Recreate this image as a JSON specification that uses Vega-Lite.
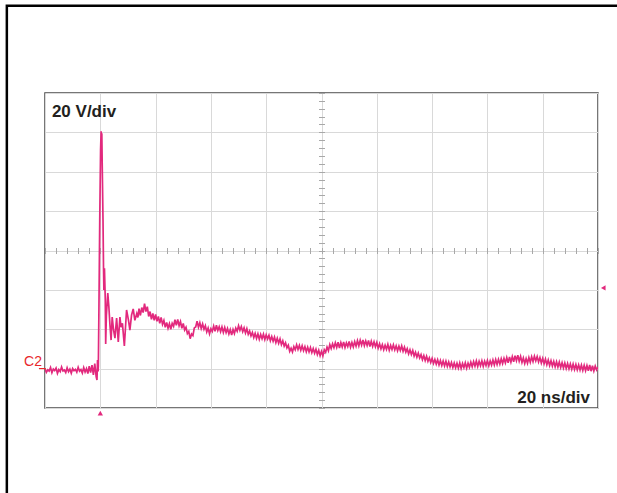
{
  "$schema": "https://vega.github.io/schema/vega-lite/v6.json",
  "width": 553,
  "height": 315,
  "autosize": {"type": "none"},
  "padding": {"left": 45, "top": 93, "right": 19, "bottom": 85},
  "background": "white",
  "config": {
    "view": {"stroke": "#4a4a4a", "strokeWidth": 1.5},
    "font": "Liberation Sans"
  },
  "resolve": {"axis": {"x": "independent", "y": "independent"}},
  "layer": [
    {
      "data": {"values": [{}]},
      "mark": {"type": "rect", "fill": null, "stroke": "black", "strokeWidth": 2.5, "clip": false},
      "encoding": {
        "x": {"datum": -13.8, "type": "quantitative", "scale": {"domain": [0, 200], "nice": false, "zero": false}, "axis": null},
        "x2": {"datum": 212},
        "y": {"datum": 184.3, "type": "quantitative", "scale": {"domain": [-20, 140], "nice": false, "zero": false}, "axis": null},
        "y2": {"datum": -68}
      }
    },
    {
      "data": {"values": [{}]},
      "mark": {"type": "text", "text": "20 V/div", "align": "left", "baseline": "alphabetic", "fontSize": 17, "fontWeight": "bold", "color": "#231f20"},
      "encoding": {
        "x": {"datum": 2.5, "type": "quantitative", "scale": {"domain": [0, 200], "nice": false, "zero": false},
          "axis": {"orient": "top", "offset": -160.5, "values": [0,4,8,12,16,20,24,28,32,36,40,44,48,52,56,60,64,68,72,76,80,84,88,92,96,100,104,108,112,116,120,124,128,132,136,140,144,148,152,156,160,164,168,172,176,180,184,188,192,196,200], "labels": false, "domain": false, "grid": false, "ticks": true, "tickSize": 6, "tickColor": "#a8a8a8", "tickWidth": 1, "title": null}},
        "y": {"datum": 127.8, "type": "quantitative", "scale": {"domain": [-20, 140], "nice": false, "zero": false},
          "axis": {"orient": "right", "offset": -279.5, "values": [-20,-16,-12,-8,-4,0,4,8,12,16,20,24,28,32,36,40,44,48,52,56,60,64,68,72,76,80,84,88,92,96,100,104,108,112,116,120,124,128,132,136,140], "labels": false, "domain": false, "grid": false, "ticks": true, "tickSize": 6, "tickColor": "#a8a8a8", "tickWidth": 1, "title": null}}
      }
    },
    {
      "data": {"values": [
        {"t":0,"v":-0.2},{"t":0.5,"v":-1.9},{"t":1,"v":-0.6},{"t":1.5,"v":-1.2},{"t":2,"v":0.6},{"t":2.5,"v":-2.1},{"t":3,"v":-0.2},{"t":3.5,"v":-1.0},{"t":4,"v":0.3},{"t":4.5,"v":-2.4},
        {"t":5,"v":-0.5},{"t":5.5,"v":-1.5},{"t":6,"v":0.8},{"t":6.5,"v":-1.2},{"t":7,"v":-0.7},{"t":7.5,"v":-2.0},{"t":8,"v":0.4},{"t":8.5,"v":-1.6},{"t":9,"v":-0.3},{"t":9.5,"v":-2.3},
        {"t":10,"v":0.1},{"t":10.5,"v":-1.0},{"t":11,"v":-0.4},{"t":11.5,"v":-1.8},{"t":12,"v":0.7},{"t":12.5,"v":-1.3},{"t":13,"v":-0.5},{"t":13.5,"v":-2.2},{"t":14,"v":0.5},{"t":14.5,"v":-1.7},
        {"t":15,"v":0.0},{"t":15.5,"v":-2.5},{"t":16,"v":1.2},{"t":16.5,"v":-2.0},{"t":17,"v":1.8},{"t":17.5,"v":-3.2},{"t":18,"v":2.5},{"t":18.5,"v":-4.0},{"t":18.8,"v":-5.8},{"t":19.0,"v":4.4},
        {"t":19.2,"v":-1.5},{"t":19.3,"v":1.5},{"t":19.5,"v":29.8},{"t":19.8,"v":75.5},{"t":20.1,"v":111},{"t":20.3,"v":120.6},{"t":20.4,"v":106},{"t":20.55,"v":119.6},{"t":20.7,"v":103},{"t":20.98,"v":75.5},
        {"t":21.16,"v":51.6},{"t":21.3,"v":40},{"t":21.5,"v":51},{"t":21.8,"v":35},{"t":21.95,"v":12.5},{"t":22.2,"v":27},{"t":22.7,"v":38.4},{"t":23.1,"v":31.3},{"t":23.5,"v":22},{"t":23.9,"v":14.5},
        {"t":24.3,"v":26.2},{"t":24.8,"v":19.6},{"t":25.3,"v":15.5},{"t":25.9,"v":25.7},{"t":26.5,"v":13.5},{"t":27.1,"v":26.2},{"t":27.5,"v":21},{"t":28,"v":23},{"t":28.7,"v":11.5},{"t":29.5,"v":29.8},
        {"t":30.2,"v":24.5},{"t":30.7,"v":19.6},{"t":31.3,"v":27.2},{"t":31.9,"v":30.3},{"t":32.5,"v":24.5},{"t":33.2,"v":28},{"t":33.6,"v":26},{"t":34,"v":30.5},{"t":34.5,"v":27},{"t":35,"v":31},
        {"t":35.5,"v":28.5},{"t":36,"v":33},{"t":36.5,"v":29},{"t":37,"v":31.5},{"t":37.5,"v":26.5},{"t":38,"v":29},{"t":38.5,"v":25},{"t":39,"v":28},{"t":39.5,"v":24.5},{"t":40,"v":27.5},
        {"t":40.5,"v":24},{"t":41,"v":26.5},{"t":41.5,"v":23},{"t":42,"v":26},{"t":42.5,"v":22.5},{"t":43,"v":24.5},{"t":43.5,"v":21},{"t":44,"v":23.5},{"t":44.5,"v":20.5},{"t":45,"v":22.8},
        {"t":45.5,"v":20},{"t":46,"v":23},{"t":46.5,"v":21.5},{"t":47,"v":24.8},{"t":47.5,"v":22},{"t":48,"v":25},{"t":48.5,"v":21.8},{"t":49,"v":23.9},{"t":49.5,"v":20.5},{"t":50,"v":22.9},
        {"t":50.5,"v":19.6},{"t":51,"v":21},{"t":51.5,"v":17.8},{"t":52,"v":18.9},{"t":52.5,"v":15.2},{"t":53,"v":17.6},{"t":53.5,"v":16.8},{"t":54,"v":20.7},{"t":54.5,"v":21.2},{"t":55,"v":24.1},
        {"t":55.5,"v":21},{"t":56,"v":23.3},{"t":56.5,"v":20.4},{"t":57,"v":22.7},{"t":57.5,"v":20},{"t":58,"v":21.8},{"t":58.5,"v":18.6},{"t":59,"v":20.6},{"t":59.5,"v":17.7},{"t":60,"v":20.2},
        {"t":60.5,"v":18.9},{"t":61,"v":21.6},{"t":61.5,"v":19},{"t":62,"v":22},{"t":62.5,"v":19.4},{"t":63,"v":21.3},{"t":63.5,"v":18.8},{"t":64,"v":21.2},{"t":64.5,"v":18.4},{"t":65,"v":20.9},
        {"t":65.5,"v":18.3},{"t":66,"v":20.4},{"t":66.5,"v":17.6},{"t":67,"v":19.8},{"t":67.5,"v":17.1},{"t":68,"v":19.9},{"t":68.5,"v":17.8},{"t":69,"v":20.6},{"t":69.5,"v":19},{"t":70,"v":21.8},
        {"t":70.5,"v":19.5},{"t":71,"v":21.4},{"t":71.5,"v":18.8},{"t":72,"v":20.7},{"t":72.5,"v":18.1},{"t":73,"v":20.3},{"t":73.5,"v":17.4},{"t":74,"v":19.1},{"t":74.5,"v":16.6},{"t":75,"v":18.4},
        {"t":75.5,"v":15.8},{"t":76,"v":17.9},{"t":76.5,"v":15.3},{"t":77,"v":17.6},{"t":77.5,"v":14.9},{"t":78,"v":17.4},{"t":78.5,"v":15.2},{"t":79,"v":17.5},{"t":79.5,"v":14.8},{"t":80,"v":17.2},
        {"t":80.5,"v":15.1},{"t":81,"v":16.9},{"t":81.5,"v":14.2},{"t":82,"v":16.3},{"t":82.5,"v":13.9},{"t":83,"v":16},{"t":83.5,"v":13.2},{"t":84,"v":15.4},{"t":84.5,"v":12.9},{"t":85,"v":15.1},
        {"t":85.5,"v":12.2},{"t":86,"v":14.1},{"t":86.5,"v":11.4},{"t":87,"v":13.1},{"t":87.5,"v":10.5},{"t":88,"v":11.9},{"t":88.5,"v":8.8},{"t":89,"v":10.4},{"t":89.5,"v":8.5},{"t":90,"v":11.2},
        {"t":90.5,"v":9.6},{"t":91,"v":12.1},{"t":91.5,"v":9.7},{"t":92,"v":11.8},{"t":92.5,"v":9.3},{"t":93,"v":11.6},{"t":93.5,"v":9.1},{"t":94,"v":11.2},{"t":94.5,"v":8.6},{"t":95,"v":10.9},
        {"t":95.5,"v":8.5},{"t":96,"v":10.7},{"t":96.5,"v":8.1},{"t":97,"v":10.2},{"t":97.5,"v":7.8},{"t":98,"v":9.9},{"t":98.5,"v":7.2},{"t":99,"v":9.3},{"t":99.5,"v":6.6},{"t":100,"v":8.8},
        {"t":100.5,"v":6.5},{"t":101,"v":9.6},{"t":101.5,"v":8.3},{"t":102,"v":11},{"t":102.5,"v":9.1},{"t":103,"v":12.2},{"t":103.5,"v":10.2},{"t":104,"v":12.6},{"t":104.5,"v":10.6},{"t":105,"v":13.1},
        {"t":105.5,"v":10.8},{"t":106,"v":13.4},{"t":106.5,"v":10.5},{"t":107,"v":13.2},{"t":107.5,"v":11},{"t":108,"v":13.6},{"t":108.5,"v":10.7},{"t":109,"v":13.1},{"t":109.5,"v":11.2},{"t":110,"v":13.8},
        {"t":110.5,"v":10.9},{"t":111,"v":13.3},{"t":111.5,"v":11},{"t":112,"v":13.7},{"t":112.5,"v":11.4},{"t":113,"v":14.2},{"t":113.5,"v":11.6},{"t":114,"v":14.4},{"t":114.5,"v":12},{"t":115,"v":14.6},
        {"t":115.5,"v":11.7},{"t":116,"v":14.1},{"t":116.5,"v":11.8},{"t":117,"v":14.3},{"t":117.5,"v":11.2},{"t":118,"v":13.9},{"t":118.5,"v":11.3},{"t":119,"v":13.6},{"t":119.5,"v":11.1},{"t":120,"v":13.3},
        {"t":120.5,"v":10.4},{"t":121,"v":12.6},{"t":121.5,"v":10.1},{"t":122,"v":12.2},{"t":122.5,"v":9.6},{"t":123,"v":11.9},{"t":123.5,"v":9.8},{"t":124,"v":12.3},{"t":124.5,"v":9.4},{"t":125,"v":11.8},
        {"t":125.5,"v":9.7},{"t":126,"v":12.1},{"t":126.5,"v":9.5},{"t":127,"v":11.6},{"t":127.5,"v":9.1},{"t":128,"v":11.4},{"t":128.5,"v":9.2},{"t":129,"v":11.5},{"t":129.5,"v":8.8},{"t":130,"v":10.9},
        {"t":130.5,"v":8.4},{"t":131,"v":10.1},{"t":131.5,"v":7.5},{"t":132,"v":9.6},{"t":132.5,"v":7.2},{"t":133,"v":9.2},{"t":133.5,"v":6.4},{"t":134,"v":8.3},{"t":134.5,"v":5.8},{"t":135,"v":7.9},
        {"t":135.5,"v":5.4},{"t":136,"v":7.1},{"t":136.5,"v":4.6},{"t":137,"v":6.6},{"t":137.5,"v":4.1},{"t":138,"v":6.3},{"t":138.5,"v":3.7},{"t":139,"v":5.5},{"t":139.5,"v":3.1},{"t":140,"v":5.2},
        {"t":140.5,"v":2.6},{"t":141,"v":4.6},{"t":141.5,"v":2.3},{"t":142,"v":4.5},{"t":142.5,"v":1.9},{"t":143,"v":4.1},{"t":143.5,"v":1.6},{"t":144,"v":3.9},{"t":144.5,"v":1.4},{"t":145,"v":3.8},
        {"t":145.5,"v":1.1},{"t":146,"v":3.4},{"t":146.5,"v":0.9},{"t":147,"v":3.1},{"t":147.5,"v":0.6},{"t":148,"v":2.9},{"t":148.5,"v":0.4},{"t":149,"v":2.7},{"t":149.5,"v":0.3},{"t":150,"v":2.9},
        {"t":150.5,"v":0.1},{"t":151,"v":2.6},{"t":151.5,"v":0.5},{"t":152,"v":3.0},{"t":152.5,"v":0.2},{"t":153,"v":2.8},{"t":153.5,"v":0.7},{"t":154,"v":3.3},{"t":154.5,"v":1.0},{"t":155,"v":3.6},
        {"t":155.5,"v":1.3},{"t":156,"v":3.9},{"t":156.5,"v":1.1},{"t":157,"v":3.7},{"t":157.5,"v":1.5},{"t":158,"v":4.0},{"t":158.5,"v":1.2},{"t":159,"v":3.8},{"t":159.5,"v":1.6},{"t":160,"v":4.1},
        {"t":160.5,"v":1.4},{"t":161,"v":3.9},{"t":161.5,"v":1.8},{"t":162,"v":4.4},{"t":162.5,"v":1.9},{"t":163,"v":4.6},{"t":163.5,"v":2.1},{"t":164,"v":4.7},{"t":164.5,"v":2.3},{"t":165,"v":5.0},
        {"t":165.5,"v":2.6},{"t":166,"v":5.2},{"t":166.5,"v":2.9},{"t":167,"v":5.6},{"t":167.5,"v":3.0},{"t":168,"v":5.9},{"t":168.5,"v":3.3},{"t":169,"v":6.1},{"t":169.5,"v":3.5},{"t":170,"v":6.6},
        {"t":170.5,"v":4.0},{"t":171,"v":6.8},{"t":171.5,"v":3.8},{"t":172,"v":6.2},{"t":172.5,"v":3.1},{"t":173,"v":5.4},{"t":173.5,"v":2.6},{"t":174,"v":5.1},{"t":174.5,"v":2.7},{"t":175,"v":5.6},
        {"t":175.5,"v":3.2},{"t":176,"v":6.0},{"t":176.5,"v":3.6},{"t":177,"v":6.3},{"t":177.5,"v":3.9},{"t":178,"v":6.1},{"t":178.5,"v":3.4},{"t":179,"v":5.6},{"t":179.5,"v":2.8},{"t":180,"v":5.2},
        {"t":180.5,"v":2.5},{"t":181,"v":4.9},{"t":181.5,"v":2.0},{"t":182,"v":4.4},{"t":182.5,"v":1.6},{"t":183,"v":4.0},{"t":183.5,"v":1.3},{"t":184,"v":3.7},{"t":184.5,"v":1.0},{"t":185,"v":3.5},
        {"t":185.5,"v":0.8},{"t":186,"v":3.3},{"t":186.5,"v":0.6},{"t":187,"v":3.0},{"t":187.5,"v":0.3},{"t":188,"v":2.8},{"t":188.5,"v":0.1},{"t":189,"v":2.6},{"t":189.5,"v":-0.1},{"t":190,"v":2.4},
        {"t":190.5,"v":-0.3},{"t":191,"v":2.3},{"t":191.5,"v":-0.4},{"t":192,"v":2.1},{"t":192.5,"v":-0.6},{"t":193,"v":1.9},{"t":193.5,"v":-0.7},{"t":194,"v":1.8},{"t":194.5,"v":-0.9},{"t":195,"v":1.7},
        {"t":195.5,"v":-1.0},{"t":196,"v":1.6},{"t":196.5,"v":-1.1},{"t":197,"v":1.9},{"t":197.5,"v":-1.3},{"t":198,"v":1.5},{"t":198.5,"v":-1.2},{"t":199,"v":1.3},{"t":199.5,"v":-0.6},{"t":200,"v":0.8}
      ]},
      "mark": {"type": "line", "color": "#e2297d", "strokeWidth": 1.7, "clip": true},
      "encoding": {
        "x": {"field": "t", "type": "quantitative", "scale": {"domain": [0, 200], "nice": false, "zero": false},
          "axis": {"orient": "bottom", "values": [0,20,40,60,80,100,120,140,160,180,200], "labels": false, "ticks": false, "domain": false, "grid": true, "gridColor": "#d9d9d9", "gridWidth": 1, "title": null}},
        "y": {"field": "v", "type": "quantitative", "scale": {"domain": [-20, 140], "nice": false, "zero": false},
          "axis": {"orient": "left", "values": [-20,0,20,40,60,80,100,120,140], "labels": false, "ticks": false, "domain": false, "grid": true, "gridColor": "#d9d9d9", "gridWidth": 1, "title": null}}
      }
    },
    {
      "data": {"values": [{}]},
      "mark": {"type": "text", "text": "20 ns/div", "align": "right", "baseline": "alphabetic", "fontSize": 17, "fontWeight": "bold", "color": "#231f20"},
      "encoding": {
        "x": {"datum": 197.1, "type": "quantitative", "axis": null},
        "y": {"datum": -17.5, "type": "quantitative", "axis": null}
      }
    },
    {
      "data": {"values": [{}]},
      "mark": {"type": "text", "text": "C2", "align": "right", "baseline": "alphabetic", "fontSize": 14, "color": "#e8282c"},
      "encoding": {
        "x": {"datum": -1.1, "type": "quantitative", "axis": null},
        "y": {"datum": 1.3, "type": "quantitative", "axis": null}
      }
    },
    {
      "data": {"values": [{}]},
      "mark": {"type": "rule", "color": "#e8282c", "strokeWidth": 1.2, "clip": false},
      "encoding": {
        "x": {"datum": -2.2, "type": "quantitative", "axis": null},
        "x2": {"datum": 0.3},
        "y": {"datum": 0, "type": "quantitative", "axis": null}
      }
    },
    {
      "data": {"values": [{}]},
      "mark": {"type": "point", "shape": "triangle-up", "filled": true, "size": 28, "color": "#e2297d", "opacity": 1},
      "encoding": {
        "x": {"datum": 20, "type": "quantitative", "axis": null},
        "y": {"datum": -22.6, "type": "quantitative", "axis": null}
      }
    },
    {
      "data": {"values": [{}]},
      "mark": {"type": "point", "shape": "triangle-left", "filled": true, "size": 28, "color": "#e2297d", "opacity": 1},
      "encoding": {
        "x": {"datum": 201.9, "type": "quantitative", "axis": null},
        "y": {"datum": 41, "type": "quantitative", "axis": null}
      }
    }
  ]
}
